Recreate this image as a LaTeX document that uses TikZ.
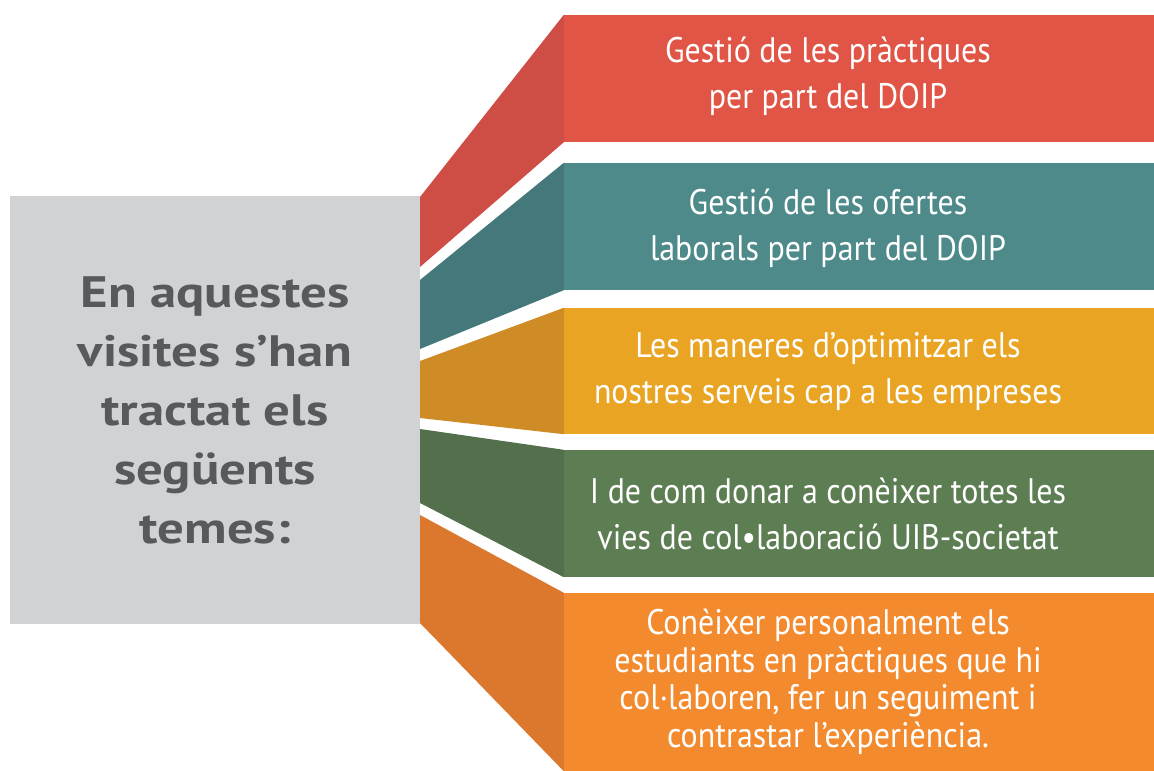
\documentclass[tikz,border=0pt]{standalone}
\usepackage{fontspec}
\setmainfont{PT Sans}
\newfontfamily\boxfont[FakeStretch=0.9]{PT Sans}
\newfontfamily\topicfont[FakeStretch=1.2]{PT Sans}
\usepackage{tikz}
\usetikzlibrary{positioning}

\definecolor{graybox}{HTML}{D1D2D4}
\definecolor{graytext}{HTML}{58595B}
\definecolor{redfront}{HTML}{E15546}
\definecolor{redside}{HTML}{CE4E45}
\definecolor{tealfront}{HTML}{4E8A8A}
\definecolor{tealside}{HTML}{44787A}
\definecolor{yellowfront}{HTML}{E9A423}
\definecolor{yellowside}{HTML}{CF8B26}
\definecolor{greenfront}{HTML}{5D7D53}
\definecolor{greenside}{HTML}{536F4C}
\definecolor{orangefront}{HTML}{F38A2E}
\definecolor{orangeside}{HTML}{DC772E}

\begin{document}
\begin{tikzpicture}[x=1pt,y=-1pt,
                    front/.style={rectangle,inner sep=0pt,minimum width=590pt},
                    boxtext/.style={text=white,align=center,
                      font=\boxfont\fontsize{35.5}{46}\selectfont}]
  \tikzstyle{topic}=[rectangle,fill=graybox,inner sep=0pt,
                     minimum width=410pt,minimum height=428pt]

  \useasboundingbox (0,0) rectangle (1154,771);

  \node[topic]                       (topic)    at (215,410)   {};
  \node[front,fill=redfront,minimum height=127pt]    (gestio)   at (859,78.5)  {};
  \node[front,fill=tealfront,minimum height=127pt]   (ofertes)  at (859,226.5) {};
  \node[front,fill=yellowfront,minimum height=126pt] (maneres)  at (859,371)   {};
  \node[front,fill=greenfront,minimum height=127pt]  (vies)     at (859,513.5) {};
  \node[front,fill=orangefront,minimum height=178pt] (coneixer) at (859,682)   {};

  % sides between the gray box and the bands
  \fill[redside]    (420,197) -- (gestio.north west)   -- (gestio.south west)   -- (420,267) -- cycle;
  \fill[tealside]   (420,280) -- (ofertes.north west)  -- (ofertes.south west)  -- (420,349) -- cycle;
  \fill[yellowside] (420,361) -- (maneres.north west)  -- (maneres.south west)  -- (420,418) -- cycle;
  \fill[greenside]  (420,429) -- (vies.north west)     -- (vies.south west)     -- (420,503) -- cycle;
  \fill[orangeside] (420,515) -- (coneixer.north west) -- (coneixer.south west) -- (420,623) -- cycle;

  \node[text=graytext,align=center,font=\topicfont\bfseries\fontsize{44}{59}\selectfont]
    (topictext) at (topic) {En aquestes\\visites s’han\\tractat els\\següents\\temes:};

  \node[boxtext,xshift=-31pt,yshift=2pt] (gestiotext)   at (gestio)
    {Gestió de les pràctiques\\per part del DOIP};
  \node[boxtext,xshift=-31pt,yshift=-2pt] (ofertestext)  at (ofertes)
    {Gestió de les ofertes\\laborals per part del DOIP};
  \node[boxtext,xshift=-31pt]            (manerestext)  at (maneres)
    {Les maneres d’optimitzar els\\nostres serveis cap a les empreses};
  \node[boxtext,xshift=-31pt]            (viestext)     at (vies)
    {I de com donar a conèixer totes les\\vies de col•laboració UIB-societat};
  \node[boxtext,xshift=-31pt,font=\boxfont\fontsize{35.5}{37.5}\selectfont] (coneixertext) at (coneixer)
    {Conèixer personalment els\\estudiants en pràctiques que hi\\col·laboren, fer un seguiment i\\contrastar l’experiència.};
\end{tikzpicture}
\end{document}
